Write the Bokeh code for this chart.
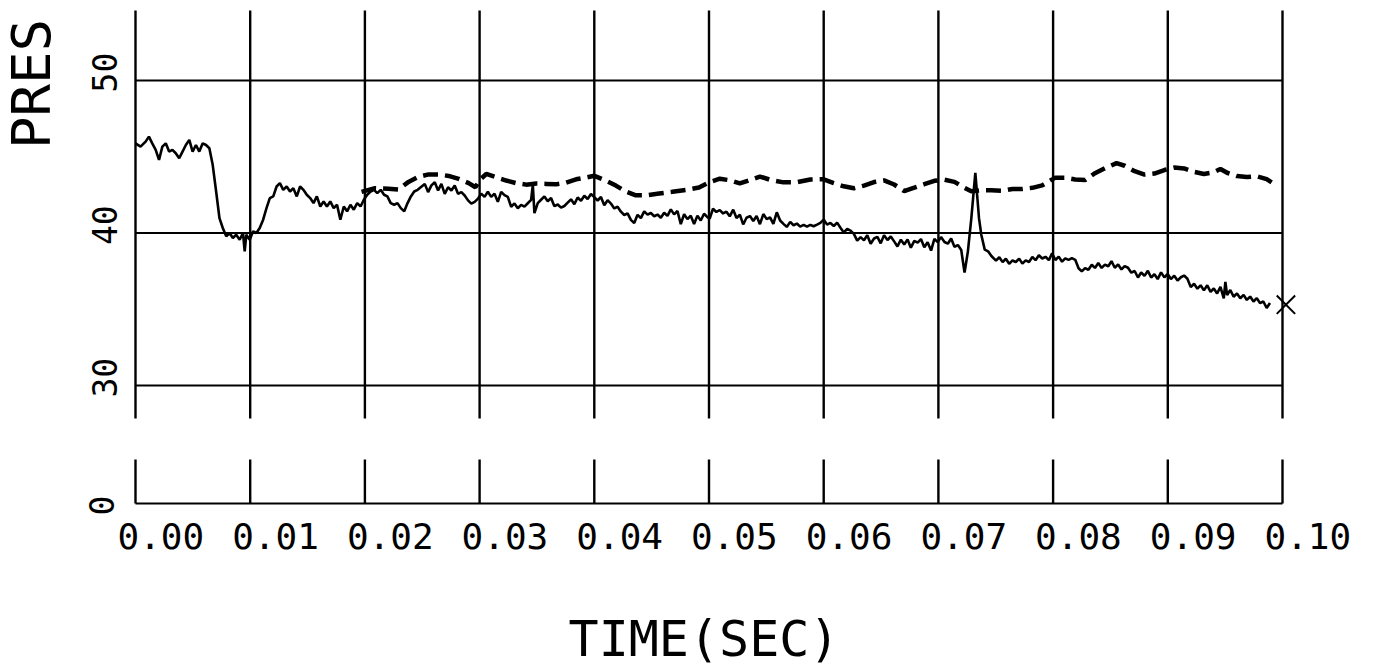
import math
from bokeh.plotting import figure
from bokeh.models import Range1d, Label
from bokeh.layouts import column
from bokeh.embed import file_html
from bokeh.resources import INLINE

# ---------------- data ----------------
solid_t = [
    0.00000, 0.00044, 0.00088, 0.00117, 0.00146, 0.00176, 0.00205, 0.00234, 0.00264, 0.00293,
    0.00322, 0.00351, 0.00381, 0.00410, 0.00439, 0.00469, 0.00498, 0.00527, 0.00556, 0.00586,
    0.00615, 0.00644, 0.00673, 0.00703, 0.00732, 0.00761, 0.00791, 0.00820, 0.00849, 0.00878,
    0.00908, 0.00937, 0.00952, 0.00966, 0.00996, 0.01025, 0.01054, 0.01083, 0.01113, 0.01142,
    0.01171, 0.01201, 0.01230, 0.01259, 0.01288, 0.01318, 0.01347, 0.01376, 0.01406, 0.01435,
    0.01464, 0.01493, 0.01523, 0.01552, 0.01581, 0.01611, 0.01640, 0.01669, 0.01698, 0.01728,
    0.01757, 0.01786, 0.01816, 0.01845, 0.01874, 0.01903, 0.01933, 0.01962, 0.01991, 0.02020,
    0.02050, 0.02079, 0.02108, 0.02138, 0.02167, 0.02196, 0.02225, 0.02255, 0.02284, 0.02313,
    0.02343, 0.02372, 0.02401, 0.02430, 0.02460, 0.02522, 0.02551, 0.02580, 0.02609, 0.02638,
    0.02667, 0.02696, 0.02725, 0.02754, 0.02783, 0.02812, 0.02841, 0.02870, 0.02899, 0.02928,
    0.02957, 0.02986, 0.03014, 0.03043, 0.03072, 0.03101, 0.03130, 0.03159, 0.03188, 0.03217,
    0.03246, 0.03275, 0.03304, 0.03333, 0.03362, 0.03391, 0.03420, 0.03449, 0.03464, 0.03478,
    0.03507, 0.03536, 0.03565, 0.03594, 0.03623, 0.03652, 0.03681, 0.03710, 0.03739, 0.03768,
    0.03797, 0.03826, 0.03855, 0.03884, 0.03913, 0.03942, 0.03971, 0.04000, 0.04029, 0.04058,
    0.04087, 0.04116, 0.04145, 0.04174, 0.04203, 0.04232, 0.04261, 0.04290, 0.04319, 0.04348,
    0.04377, 0.04406, 0.04435, 0.04464, 0.04493, 0.04522, 0.04551, 0.04580, 0.04609, 0.04638,
    0.04667, 0.04696, 0.04725, 0.04754, 0.04783, 0.04812, 0.04841, 0.04870, 0.04899, 0.04928,
    0.04957, 0.04986, 0.05006, 0.05035, 0.05064, 0.05094, 0.05123, 0.05152, 0.05181, 0.05211,
    0.05240, 0.05269, 0.05298, 0.05327, 0.05357, 0.05386, 0.05415, 0.05444, 0.05474, 0.05503,
    0.05532, 0.05561, 0.05591, 0.05620, 0.05649, 0.05678, 0.05708, 0.05737, 0.05766, 0.05795,
    0.05825, 0.05854, 0.05883, 0.05912, 0.05942, 0.05971, 0.06000, 0.06029, 0.06058, 0.06088,
    0.06117, 0.06146, 0.06175, 0.06205, 0.06234, 0.06263, 0.06292, 0.06322, 0.06351, 0.06380,
    0.06409, 0.06439, 0.06468, 0.06497, 0.06526, 0.06556, 0.06585, 0.06614, 0.06643, 0.06673,
    0.06702, 0.06731, 0.06760, 0.06790, 0.06819, 0.06848, 0.06877, 0.06906, 0.06936, 0.06965,
    0.06994, 0.07023, 0.07053, 0.07082, 0.07111, 0.07140, 0.07170, 0.07199, 0.07228, 0.07257,
    0.07287, 0.07322, 0.07354, 0.07374, 0.07404, 0.07433, 0.07462, 0.07502, 0.07531, 0.07560,
    0.07588, 0.07617, 0.07646, 0.07675, 0.07704, 0.07732, 0.07761, 0.07790, 0.07819, 0.07847,
    0.07876, 0.07905, 0.07934, 0.07963, 0.07991, 0.08020, 0.08049, 0.08078, 0.08106, 0.08135,
    0.08164, 0.08193, 0.08222, 0.08250, 0.08279, 0.08308, 0.08337, 0.08365, 0.08394, 0.08423,
    0.08452, 0.08481, 0.08509, 0.08538, 0.08567, 0.08596, 0.08624, 0.08653, 0.08682, 0.08711,
    0.08740, 0.08768, 0.08797, 0.08826, 0.08855, 0.08883, 0.08912, 0.08941, 0.08970, 0.08999,
    0.09027, 0.09056, 0.09085, 0.09114, 0.09142, 0.09171, 0.09200, 0.09229, 0.09258, 0.09286,
    0.09315, 0.09344, 0.09373, 0.09401, 0.09430, 0.09459, 0.09488, 0.09502, 0.09517, 0.09545,
    0.09574, 0.09603, 0.09632, 0.09661, 0.09689, 0.09718, 0.09747, 0.09776, 0.09804, 0.09833,
    0.09862, 0.09891,
]
solid_p = [
    45.88, 45.66, 45.99, 46.32, 45.88, 45.45, 44.79, 45.66, 45.88, 45.34,
    45.45, 45.23, 44.90, 45.34, 45.77, 46.10, 45.34, 45.77, 45.34, 45.88,
    45.77, 45.56, 44.47, 42.72, 40.98, 40.33, 39.78, 40.00, 39.67, 39.89,
    39.56, 40.00, 38.80, 39.89, 39.56, 40.11, 40.00, 40.33, 40.87, 41.63,
    42.29, 42.40, 43.05, 43.27, 42.83, 43.05, 42.72, 42.94, 42.40, 43.05,
    42.83, 42.51, 42.29, 41.96, 42.40, 41.74, 42.07, 41.74, 42.07, 41.63,
    41.85, 40.87, 41.74, 41.42, 41.85, 41.53, 41.96, 41.74, 42.18, 42.51,
    42.72, 42.83, 42.61, 42.83, 42.51, 42.40, 41.96, 41.85, 41.96, 41.63,
    41.42, 41.96, 42.40, 42.72, 42.83, 43.22, 42.68, 43.12, 43.33, 42.79,
    43.22, 42.57, 43.00, 42.79, 43.12, 42.57, 42.68, 42.46, 42.14, 41.93,
    42.04, 42.25, 42.58, 42.37, 42.70, 42.37, 42.58, 42.04, 42.70, 42.48,
    42.37, 41.72, 41.94, 41.62, 41.84, 41.73, 41.95, 42.17, 43.15, 41.30,
    41.96, 42.18, 42.40, 42.08, 42.30, 41.76, 41.87, 41.66, 41.77, 41.99,
    42.21, 41.89, 42.33, 42.11, 42.44, 42.23, 42.56, 42.35, 42.13, 42.36,
    41.82, 42.15, 41.93, 41.61, 41.72, 41.40, 41.18, 41.29, 40.86, 40.65,
    41.19, 40.98, 41.42, 41.20, 41.31, 41.10, 41.21, 41.00, 41.33, 41.12,
    41.55, 41.22, 41.44, 40.58, 41.23, 40.91, 41.13, 40.59, 41.14, 40.82,
    41.26, 41.04, 40.94, 41.59, 41.38, 41.50, 41.28, 41.40, 41.09, 41.53,
    40.98, 41.21, 40.56, 41.00, 41.11, 40.79, 41.12, 40.58, 41.24, 40.91,
    41.03, 40.60, 41.36, 40.82, 40.60, 40.40, 40.73, 40.51, 40.62, 40.42,
    40.53, 40.42, 40.53, 40.44, 40.55, 40.66, 40.88, 40.55, 40.66, 40.46,
    40.68, 40.35, 40.04, 40.26, 40.16, 39.94, 39.50, 39.73, 39.52, 39.85,
    39.30, 39.64, 39.75, 39.32, 39.86, 39.54, 39.77, 39.45, 39.12, 39.56,
    39.25, 39.58, 39.04, 39.48, 39.37, 39.60, 39.06, 39.39, 38.85, 39.62,
    39.40, 39.73, 39.41, 39.30, 39.64, 39.10, 39.21, 38.89, 37.40, 38.78,
    40.96, 43.95, 40.97, 39.89, 38.91, 38.80, 38.49, 38.19, 38.41, 38.09,
    38.31, 37.98, 38.20, 38.10, 38.32, 37.99, 38.21, 38.10, 38.43, 38.22,
    38.54, 38.33, 38.44, 38.22, 38.66, 38.23, 38.45, 38.12, 38.34, 38.24,
    38.35, 38.24, 37.69, 37.48, 37.70, 37.59, 37.92, 37.71, 38.03, 37.71,
    37.93, 37.82, 38.15, 37.72, 37.94, 37.61, 37.83, 37.72, 37.40, 37.51,
    37.08, 37.41, 37.19, 37.52, 37.08, 37.30, 36.98, 37.42, 37.09, 37.31,
    36.98, 37.20, 36.88, 37.10, 37.21, 37.00, 36.45, 36.67, 36.35, 36.57,
    36.24, 36.57, 36.14, 36.36, 36.03, 36.47, 35.71, 36.80, 35.93, 36.26,
    35.82, 36.04, 35.72, 35.94, 35.61, 35.83, 35.51, 35.73, 35.40, 35.51,
    35.08, 35.41,
]

dash_t = [
    0.01971, 0.02088, 0.02204, 0.02292, 0.02380, 0.02467, 0.02555, 0.02642, 0.02730, 0.02818,
    0.02905, 0.02964, 0.03000, 0.03058, 0.03145, 0.03232, 0.03319, 0.03406, 0.03493, 0.03580,
    0.03667, 0.03754, 0.03841, 0.03928, 0.04000, 0.04101, 0.04188, 0.04275, 0.04362, 0.04449,
    0.04565, 0.04681, 0.04797, 0.04913, 0.05006, 0.05094, 0.05181, 0.05269, 0.05357, 0.05444,
    0.05532, 0.05649, 0.05766, 0.05883, 0.06000, 0.06088, 0.06175, 0.06263, 0.06351, 0.06439,
    0.06526, 0.06614, 0.06702, 0.06790, 0.06877, 0.06965, 0.07053, 0.07140, 0.07228, 0.07287,
    0.07374, 0.07462, 0.07560, 0.07646, 0.07732, 0.07819, 0.07905, 0.07977, 0.08020, 0.08106,
    0.08193, 0.08279, 0.08365, 0.08452, 0.08553, 0.08624, 0.08711, 0.08797, 0.08883, 0.08970,
    0.09056, 0.09142, 0.09229, 0.09315, 0.09401, 0.09459, 0.09517, 0.09603, 0.09689, 0.09776,
    0.09862, 0.09919,
]
dash_p = [
    42.70, 42.94, 42.90, 42.85, 43.35, 43.68, 43.84, 43.84, 43.74, 43.55,
    43.27, 43.00, 43.47, 43.87, 43.65, 43.44, 43.27, 43.17, 43.24, 43.22,
    43.19, 43.30, 43.52, 43.64, 43.75, 43.43, 43.11, 42.72, 42.47, 42.47,
    42.59, 42.70, 42.82, 42.98, 43.34, 43.56, 43.46, 43.25, 43.47, 43.70,
    43.49, 43.32, 43.33, 43.51, 43.52, 43.27, 43.06, 42.93, 43.11, 43.34,
    43.45, 43.18, 42.75, 42.97, 43.20, 43.42, 43.49, 43.35, 42.96, 42.74,
    42.80, 42.80, 42.77, 42.89, 42.89, 42.96, 43.12, 43.45, 43.63, 43.63,
    43.51, 43.47, 43.92, 44.25, 44.58, 44.41, 44.05, 43.83, 43.90, 44.13,
    44.29, 44.23, 44.01, 43.87, 43.98, 44.20, 43.95, 43.73, 43.67, 43.72,
    43.53, 43.25,
]

end_t = [0.1003]
end_p = [35.3]

x_ticks = [0.00, 0.01, 0.02, 0.03, 0.04, 0.05, 0.06, 0.07, 0.08, 0.09, 0.10]
x_tick_labels = ["0.00", "0.01", "0.02", "0.03", "0.04", "0.05",
                 "0.06", "0.07", "0.08", "0.09", "0.10"]
upper_y_ticks = [30, 40, 50]
upper_y_labels = ["30", "40", "50"]
lower_y_ticks = [0]
lower_y_labels = ["0"]
x_title = "TIME(SEC)"
y_title = "PRES"

# ---------------- layout / style ----------------
FONT = "DejaVu Sans Mono"
INK = "black"
W = 1370
PX_PER_T = 11470.0          # screen px per second
PX_PER_P = 15.255           # screen px per pressure unit
X0_PX = 135                 # screen x of t = 0
X_RANGE = (-X0_PX / PX_PER_T, (W - X0_PX) / PX_PER_T)

H_UP = 440
UP_RANGE = (30 - (H_UP - 385) / PX_PER_P, 50 + 80 / PX_PER_P)     # visible window
UP_GRID = (30 - 33 / PX_PER_P, 50 + 70 / PX_PER_P)                 # grid-line extent

H_LOW = 230
LOW_RANGE = (-(H_LOW - 63) / PX_PER_P, 63 / PX_PER_P)
LOW_GRID_TOP = 44 / PX_PER_P


def make_fig(height, yr):
    p = figure(width=W, height=height,
               x_range=Range1d(*X_RANGE), y_range=Range1d(*yr),
               output_backend="svg", toolbar_location=None,
               x_axis_location=None, y_axis_location=None,
               min_border_left=0, min_border_right=0,
               min_border_top=0, min_border_bottom=0,
               outline_line_color=None,
               background_fill_color="white", border_fill_color="white")
    p.grid.visible = False
    return p


upper = make_fig(H_UP, UP_RANGE)
lower = make_fig(H_LOW, LOW_RANGE)

n = len(x_ticks)
# vertical grid lines
upper.segment(x0=x_ticks, y0=[UP_GRID[0]] * n, x1=x_ticks, y1=[UP_GRID[1]] * n,
              line_color=INK, line_width=2.4)
lower.segment(x0=x_ticks, y0=[lower_y_ticks[0]] * n, x1=x_ticks, y1=[LOW_GRID_TOP] * n,
              line_color=INK, line_width=2.4)
# horizontal grid lines
m = len(upper_y_ticks)
upper.segment(x0=[x_ticks[0]] * m, y0=upper_y_ticks, x1=[x_ticks[-1]] * m, y1=upper_y_ticks,
              line_color=INK, line_width=2.2)
lower.segment(x0=[x_ticks[0]], y0=lower_y_ticks, x1=[x_ticks[-1]], y1=lower_y_ticks,
              line_color=INK, line_width=2.2)

# series
upper.line(dash_t, dash_p, line_color=INK, line_width=4.5, line_dash="15 7")
upper.line(solid_t, solid_p, line_color=INK, line_width=2.6)
upper.scatter(end_t, end_p, marker="x", size=26, line_color=INK, line_width=2)

# y tick labels (rotated, reading upwards)
for v, s in zip(upper_y_ticks, upper_y_labels):
    upper.add_layout(Label(x=x_ticks[0], y=v, text=s, angle=math.pi / 2, angle_units="rad",
                           x_offset=-31, y_offset=-12, text_align="left",
                           text_baseline="alphabetic", text_font=FONT,
                           text_font_size="33px", text_color=INK))
for v, s in zip(lower_y_ticks, lower_y_labels):
    lower.add_layout(Label(x=x_ticks[0], y=v, text=s, angle=math.pi / 2, angle_units="rad",
                           x_offset=-34, y_offset=-12, text_align="left",
                           text_baseline="alphabetic", text_font=FONT,
                           text_font_size="33px", text_color=INK))

# y title
upper.add_layout(Label(x=x_ticks[0], y=upper_y_ticks[1], text=y_title, angle=math.pi / 2,
                       angle_units="rad", x_offset=-104, y_offset=84, text_align="left",
                       text_baseline="alphabetic", text_font=FONT,
                       text_font_size="54px", text_color=INK))

# x tick labels
for t, s in zip(x_ticks, x_tick_labels):
    lower.add_layout(Label(x=t, y=lower_y_ticks[0], text=s, x_offset=-18, y_offset=-32,
                           text_align="left", text_baseline="alphabetic", text_font=FONT,
                           text_font_size="36px", text_color=INK))

# x title
lower.add_layout(Label(x=x_ticks[5], y=lower_y_ticks[0], text=x_title, x_offset=-5,
                       y_offset=-135, text_align="center", text_baseline="alphabetic",
                       text_font=FONT, text_font_size="50px", text_color=INK))

layout = column(upper, lower)
open("out.html", "w").write(file_html(layout, INLINE))
